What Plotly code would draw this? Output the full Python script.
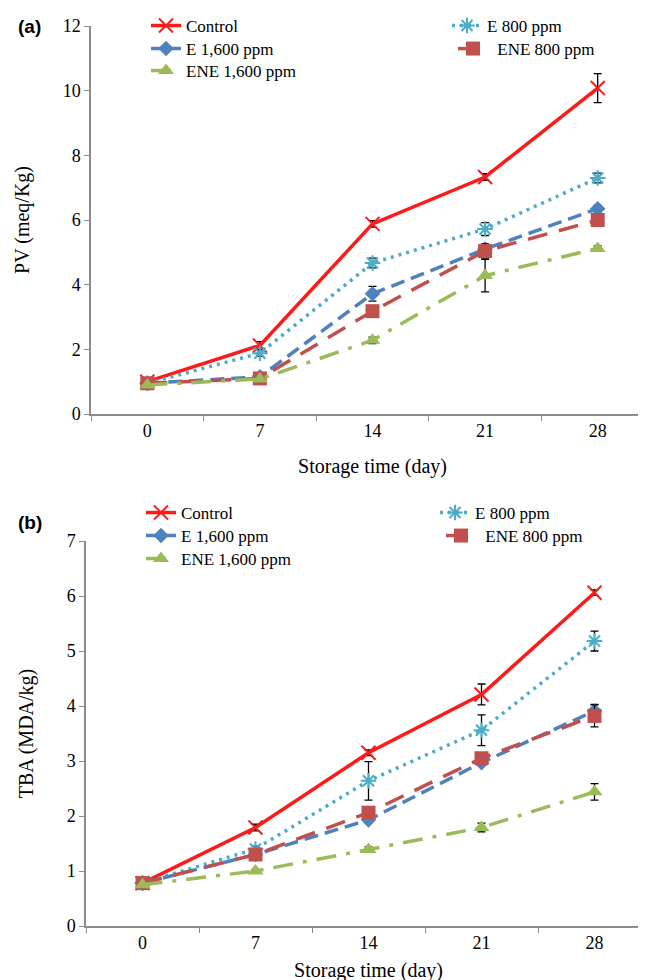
import plotly.graph_objects as go

days = ["0", "7", "14", "21", "28"]
series_names = ["Control", "E 800 ppm", "E 1,600 ppm", "\u00a0ENE 800 ppm", "ENE 1,600 ppm"]

# Panel (a) PV (meq/Kg)
pv_control = [1.00, 2.12, 5.88, 7.33, 10.08]
pv_e800 = [0.95, 1.88, 4.67, 5.72, 7.30]
pv_e1600 = [0.95, 1.15, 3.72, 5.10, 6.35]
pv_ene800 = [0.95, 1.10, 3.18, 5.04, 6.00]
pv_ene1600 = [0.90, 1.08, 2.28, 4.28, 5.12]
pv_control_err = [0.05, 0.12, 0.10, 0.10, 0.45]
pv_e800_err = [0.05, 0.10, 0.15, 0.20, 0.15]
pv_e1600_err = [0.05, 0.05, 0.23, 0.10, 0.10]
pv_ene800_err = [0.05, 0.05, 0.10, 0.22, 0.20]
pv_ene1600_err = [0.05, 0.05, 0.10, 0.50, 0.08]

# Panel (b) TBA (MDA/kg)
tba_control = [0.78, 1.79, 3.15, 4.21, 6.06]
tba_e800 = [0.78, 1.40, 2.64, 3.56, 5.18]
tba_e1600 = [0.78, 1.30, 1.93, 2.97, 3.91]
tba_ene800 = [0.78, 1.30, 2.06, 3.05, 3.82]
tba_ene1600 = [0.75, 1.00, 1.39, 1.79, 2.44]
tba_control_err = [0.03, 0.06, 0.05, 0.19, 0.05]
tba_e800_err = [0.03, 0.05, 0.35, 0.28, 0.18]
tba_e1600_err = [0.03, 0.05, 0.05, 0.05, 0.12]
tba_ene800_err = [0.03, 0.05, 0.10, 0.05, 0.20]
tba_ene1600_err = [0.03, 0.03, 0.05, 0.08, 0.15]

colors = ["#FF1A1A", "#4BACC6", "#4F81BD", "#C0504D", "#9BBB59"]
dashes = ["solid", "3px,5px", "14px,7px", "20px,12px", "20px,10px,4px,10px"]
symbols = ["x-thin-open", "asterisk-open", "diamond", "square", "triangle-up"]
msizes = [14, 13, 12, 14, 14]

SERIF = "Liberation Serif"

# legend item positions in pixels: (left x of legend box, centre y of row)
legend_pos_a = [(138, 18), (439, 18), (138, 41), (445, 41), (138, 63)]
legend_pos_b = [(133, 505), (427, 505), (133, 528), (433, 528), (133, 551)]

fig = go.Figure()

pv_vals = [pv_control, pv_e800, pv_e1600, pv_ene800, pv_ene1600]
pv_errs = [pv_control_err, pv_e800_err, pv_e1600_err, pv_ene800_err, pv_ene1600_err]
tba_vals = [tba_control, tba_e800, tba_e1600, tba_ene800, tba_ene1600]
tba_errs = [tba_control_err, tba_e800_err, tba_e1600_err, tba_ene800_err, tba_ene1600_err]

PLOT_L, PLOT_T, PLOT_W, PLOT_H = 78, 18, 568, 900

legends = {}

def add(vals, errs, xa, ya, first_idx, positions):
    for i in range(5):
        lg_idx = first_idx + i
        lg = "legend" if lg_idx == 1 else f"legend{lg_idx}"
        px, py = positions[i]
        legends[lg] = go.layout.Legend(
            x=(px - PLOT_L) / PLOT_W, y=1 - (py - PLOT_T) / PLOT_H,
            xanchor="left", yanchor="middle", orientation="v",
            bgcolor="rgba(0,0,0,0)", visible=True,
            font=go.layout.legend.Font(family=SERIF, size=17, color="black"))
        mline = dict(width=2, color=colors[i]) if symbols[i] in ("x-thin-open", "asterisk-open") else dict(width=0)
        fig.add_trace(go.Scatter(
            x=days, y=vals[i], name=series_names[i], mode="lines+markers",
            xaxis=xa, yaxis=ya, legend=lg, showlegend=True,
            line=dict(color=colors[i], width=3.5, dash=dashes[i]),
            marker=dict(symbol=symbols[i], size=msizes[i], color=colors[i], line=mline),
            error_y=dict(type="data", array=errs[i], visible=True, color="black",
                         thickness=1.3, width=4),
        ))

add(pv_vals, pv_errs, "x", "y", 1, legend_pos_a)
add(tba_vals, tba_errs, "x2", "y2", 6, legend_pos_b)

axis_common = dict(showline=True, linecolor="#8C8C8C", linewidth=1.5, showgrid=False,
                   zeroline=False, ticks="outside", tickcolor="#8C8C8C", ticklen=5,
                   automargin=False,
                   tickfont=dict(family=SERIF, size=18, color="black"))

fig.update_layout(
    width=646, height=980,
    showlegend=True,
    margin=dict(l=PLOT_L, r=0, t=PLOT_T, b=62),
    paper_bgcolor="white", plot_bgcolor="white",
    font=dict(family=SERIF, color="black"),
    xaxis=dict(axis_common, domain=[5 / 568, 1], anchor="y", type="category",
               tickson="boundaries", range=[-0.5, 4.5],
               title=dict(text="Storage time (day)", font=dict(family=SERIF, size=20), standoff=19)),
    yaxis=dict(axis_common, domain=[1 - 388 / 900, 1], anchor="x", range=[0, 12], dtick=2,
               title=dict(text="PV (meq/Kg)", font=dict(family=SERIF, size=20), standoff=28)),
    xaxis2=dict(axis_common, domain=[0, 565 / 568], anchor="y2", type="category",
                tickson="boundaries", range=[-0.5, 4.5],
                title=dict(text="Storage time (day)", font=dict(family=SERIF, size=20), standoff=11)),
    yaxis2=dict(axis_common, domain=[0, 385 / 900], anchor="x2", range=[0, 7], dtick=1,
                title=dict(text="TBA (MDA/kg)", font=dict(family=SERIF, size=20), standoff=28)),
)
fig.update_layout(**legends)

fig.add_annotation(text="<b>(a)</b>", xref="paper", yref="paper", x=(8 - 78) / 568, y=1.0,
                   xanchor="left", yanchor="middle", showarrow=False,
                   font=dict(family="Liberation Sans", size=19, color="black"))
fig.add_annotation(text="<b>(b)</b>", xref="paper", yref="paper", x=(8 - 78) / 568,
                   y=1 - (514 - 18) / 900, xanchor="left", yanchor="middle", showarrow=False,
                   font=dict(family="Liberation Sans", size=19, color="black"))

fig.write_html("out.html")
